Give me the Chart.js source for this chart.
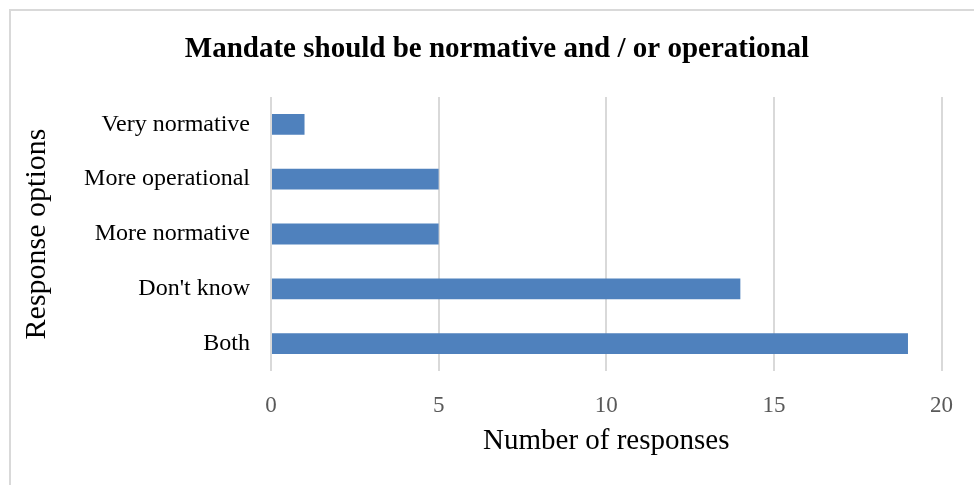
<!DOCTYPE html>
<html>
<head>
<meta charset="utf-8">
<script src="https://cdn.jsdelivr.net/npm/chart.js@4.4.0/dist/chart.umd.min.js"></script>
<style>
    body { margin: 0; background: #fff; }
    #wrap { position: relative; width: 974px; height: 485px; overflow: hidden; }
    #frame { position: absolute; left: 9px; top: 9px; width: 1000px; height: 500px; border: 2px solid #d9d9d9; pointer-events: none; }
    canvas { display: block; }
</style>
</head>
<body>
<div id="wrap">
    <canvas id="mandate_chart" width="974" height="485"></canvas>
    <div id="frame"></div>
</div>
<script>
// data
var categories = ["Very normative", "More operational", "More normative", "Don't know", "Both"];
var responses = [1, 5, 5, 14, 19];
var xTicks = [0, 5, 10, 15, 20];
var chartTitle = "Mandate should be normative and / or operational";

// title drawn centred on the whole frame, not only the plot
var titlePlugin = {
    id: 'frameTitle',
    afterDraw: function (chart) {
        var ctx = chart.ctx;
        ctx.save();
        ctx.font = 'bold 29px "Liberation Serif"';
        ctx.fillStyle = '#000';
        ctx.textAlign = 'center';
        ctx.textBaseline = 'middle';
        ctx.fillText(chartTitle, 497, 50);
        ctx.restore();
    }
};

var ctx = document.getElementById("mandate_chart").getContext('2d');
var myChartBar = new Chart(ctx, {
    type: 'bar',
    data: {
        labels: categories,
        datasets: [{
            label: 'Number of responses',
            data: responses,
            backgroundColor: '#4f81bd',
            borderWidth: 0,
            barPercentage: 0.38,
            categoryPercentage: 1
        }]
    },
    options: {
        indexAxis: 'y',
        responsive: false,
        animation: false,
        layout: { padding: { left: 15, right: 31, top: 97, bottom: 22 } },
        plugins: {
            legend: { display: false },
            tooltip: { enabled: false }
        },
        scales: {
            x: {
                min: 0,
                max: 20,
                afterBuildTicks: function (axis) {
                    axis.ticks = xTicks.map(function (v) { return { value: v }; });
                },
                afterFit: function (axis) { axis.height = 92; },
                grid: { color: '#d9d9d9', lineWidth: 2, drawTicks: false },
                border: { display: false },
                ticks: {
                    padding: 21,
                    color: '#595959',
                    font: { family: '"Liberation Serif"', size: 23 }
                },
                title: {
                    display: true,
                    text: 'Number of responses',
                    color: '#000',
                    font: { family: '"Liberation Serif"', size: 29 },
                    padding: { top: 4, bottom: 4 }
                }
            },
            y: {
                afterFit: function (axis) { axis.width = 256; },
                grid: { display: false, drawTicks: false },
                border: { display: false },
                ticks: {
                    padding: 21,
                    color: '#000',
                    font: { family: '"Liberation Serif"', size: 24 }
                },
                title: {
                    display: true,
                    text: 'Response options',
                    color: '#000',
                    font: { family: '"Liberation Serif"', size: 30 },
                    padding: { top: 4, bottom: 4 }
                }
            }
        }
    },
    plugins: [titlePlugin]
});
</script>
</body>
</html>
